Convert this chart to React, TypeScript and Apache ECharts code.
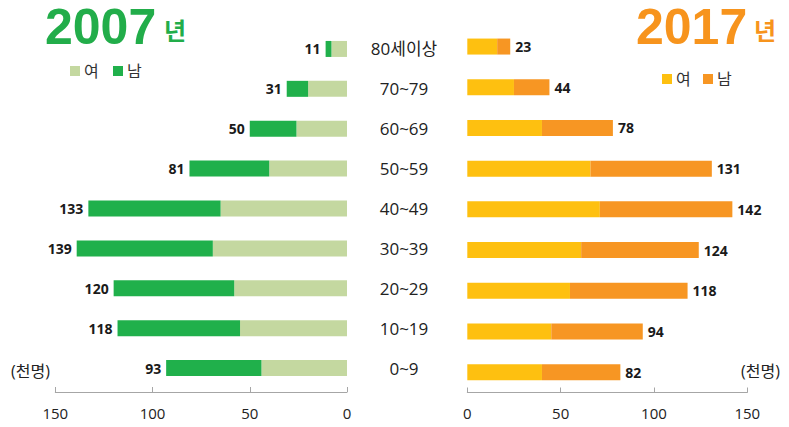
import React, { useEffect, useRef } from "react";
import * as echarts from "echarts";

const categories = ["0~9", "10~19", "20~29", "30~39", "40~49", "50~59", "60~69", "70~79", "80세이상"];
const female2007 = [44, 55, 58, 69, 65, 40, 26, 20, 8];
const male2007 = [49, 63, 62, 70, 68, 41, 24, 11, 3];
const total2007 = [93, 118, 120, 139, 133, 81, 50, 31, 11];
const female2017 = [40, 45, 55, 61, 71, 66, 40, 25, 16];
const male2017 = [42, 49, 63, 63, 71, 65, 38, 19, 7];
const total2017 = [82, 94, 118, 124, 142, 131, 78, 44, 23];
const axisMin = 0;
const axisMax = 150;
const axisStep = 50;
const legendNames = ["여", "남"];
const unitLabel = "(천명)";
const yearLeft = "2007";
const yearRight = "2017";
const yearSuffix = "년";

const FONT = '"Open Sans", "Noto Sans CJK KR", sans-serif';
const TITLE_FONT = '"Liberation Sans", "Noto Sans CJK KR", sans-serif';
const C_LGREEN = "#c4d8a0";
const C_DGREEN = "#20b04b";
const C_YELLOW = "#fec010";
const C_ORANGE = "#f79623";
const T_GREEN = "#22ad4a";
const T_ORANGE = "#f7941d";

export default function App() {
  const ref = useRef<HTMLDivElement>(null);
  useEffect(() => {
    if (!ref.current) return;
    const chart = echarts.init(ref.current, null, { renderer: "svg" });
    const xAxisCommon = {
      type: "value",
      min: axisMin,
      max: axisMax,
      interval: axisStep,
      splitLine: { show: false },
      axisLine: { show: true, lineStyle: { color: "#a6a6a6", width: 1 } },
      axisTick: { show: true, inside: true, length: 5, lineStyle: { color: "#a6a6a6" } },
      axisLabel: { fontSize: 15, color: "#222", fontFamily: FONT, margin: 13 },
    };
    const barLabel = (totals: number[], pos: string) => ({
      show: true,
      position: pos,
      distance: 5,
      fontSize: 14,
      fontWeight: "bold",
      color: "#1a1a1a",
      fontFamily: FONT,
      formatter: (p: any) => String(totals[p.dataIndex]),
    });
    const textEl = (
      text: string,
      x: number,
      y: number,
      size: number,
      color: string,
      weight = "normal",
      family = FONT
    ) => ({
      type: "text",
      x,
      y,
      style: {
        text,
        fill: color,
        font: `${weight} ${size}px ${family}`,
        textAlign: "left",
        textVerticalAlign: "middle",
      },
    });
    const square = (x: number, y: number, color: string) => ({
      type: "rect",
      shape: { x, y, width: 10, height: 10 },
      style: { fill: color },
    });
    chart.setOption({
      animation: false,
      grid: [
        { left: 55.3, width: 291.7, top: 29, height: 359 },
        { left: 467.3, width: 280, top: 26.2, height: 366.3 },
      ],
      xAxis: [
        { ...xAxisCommon, gridIndex: 0, inverse: true, offset: 4 },
        { ...xAxisCommon, gridIndex: 1 },
      ],
      yAxis: [
        {
          type: "category",
          gridIndex: 0,
          data: categories,
          position: "right",
          axisLine: { show: false },
          axisTick: { show: false },
          axisLabel: { align: "center", margin: 57, fontSize: 17, color: "#222", fontFamily: FONT },
        },
        {
          type: "category",
          gridIndex: 1,
          data: categories,
          axisLine: { show: false },
          axisTick: { show: false },
          axisLabel: { show: false },
        },
      ],
      series: [
        {
          name: legendNames[0],
          type: "bar",
          stack: "y2007",
          xAxisIndex: 0,
          yAxisIndex: 0,
          data: female2007,
          barWidth: 16,
          itemStyle: { color: C_LGREEN },
        },
        {
          name: legendNames[1],
          type: "bar",
          stack: "y2007",
          xAxisIndex: 0,
          yAxisIndex: 0,
          data: male2007,
          barWidth: 16,
          itemStyle: { color: C_DGREEN },
          label: barLabel(total2007, "left"),
        },
        {
          name: legendNames[0],
          type: "bar",
          stack: "y2017",
          xAxisIndex: 1,
          yAxisIndex: 1,
          data: female2017,
          barWidth: 16,
          itemStyle: { color: C_YELLOW },
        },
        {
          name: legendNames[1],
          type: "bar",
          stack: "y2017",
          xAxisIndex: 1,
          yAxisIndex: 1,
          data: male2017,
          barWidth: 16,
          itemStyle: { color: C_ORANGE },
          label: barLabel(total2017, "right"),
        },
      ],
      graphic: [
        textEl(yearLeft, 45, 27, 50, T_GREEN, "bold", TITLE_FONT),
        textEl(yearSuffix, 164, 30, 24, T_GREEN, "bold"),
        textEl(yearRight, 636, 27, 50, T_ORANGE, "bold", TITLE_FONT),
        textEl(yearSuffix, 754, 30, 24, T_ORANGE, "bold"),
        square(70, 66, C_LGREEN),
        textEl(legendNames[0], 84, 71, 16, "#333"),
        square(113, 66, C_DGREEN),
        textEl(legendNames[1], 127, 71, 16, "#333"),
        square(662, 74, C_YELLOW),
        textEl(legendNames[0], 676, 79, 16, "#333"),
        square(703, 74, C_ORANGE),
        textEl(legendNames[1], 717, 79, 16, "#333"),
        textEl(unitLabel, 11, 371, 16, "#222"),
        textEl(unitLabel, 741, 371, 16, "#222"),
      ],
    });
    return () => chart.dispose();
  }, []);
  return (
    <div
      ref={ref}
      style={{ position: "fixed", left: 0, top: 0, width: 789, height: 427, background: "#fff" }}
    />
  );
}
